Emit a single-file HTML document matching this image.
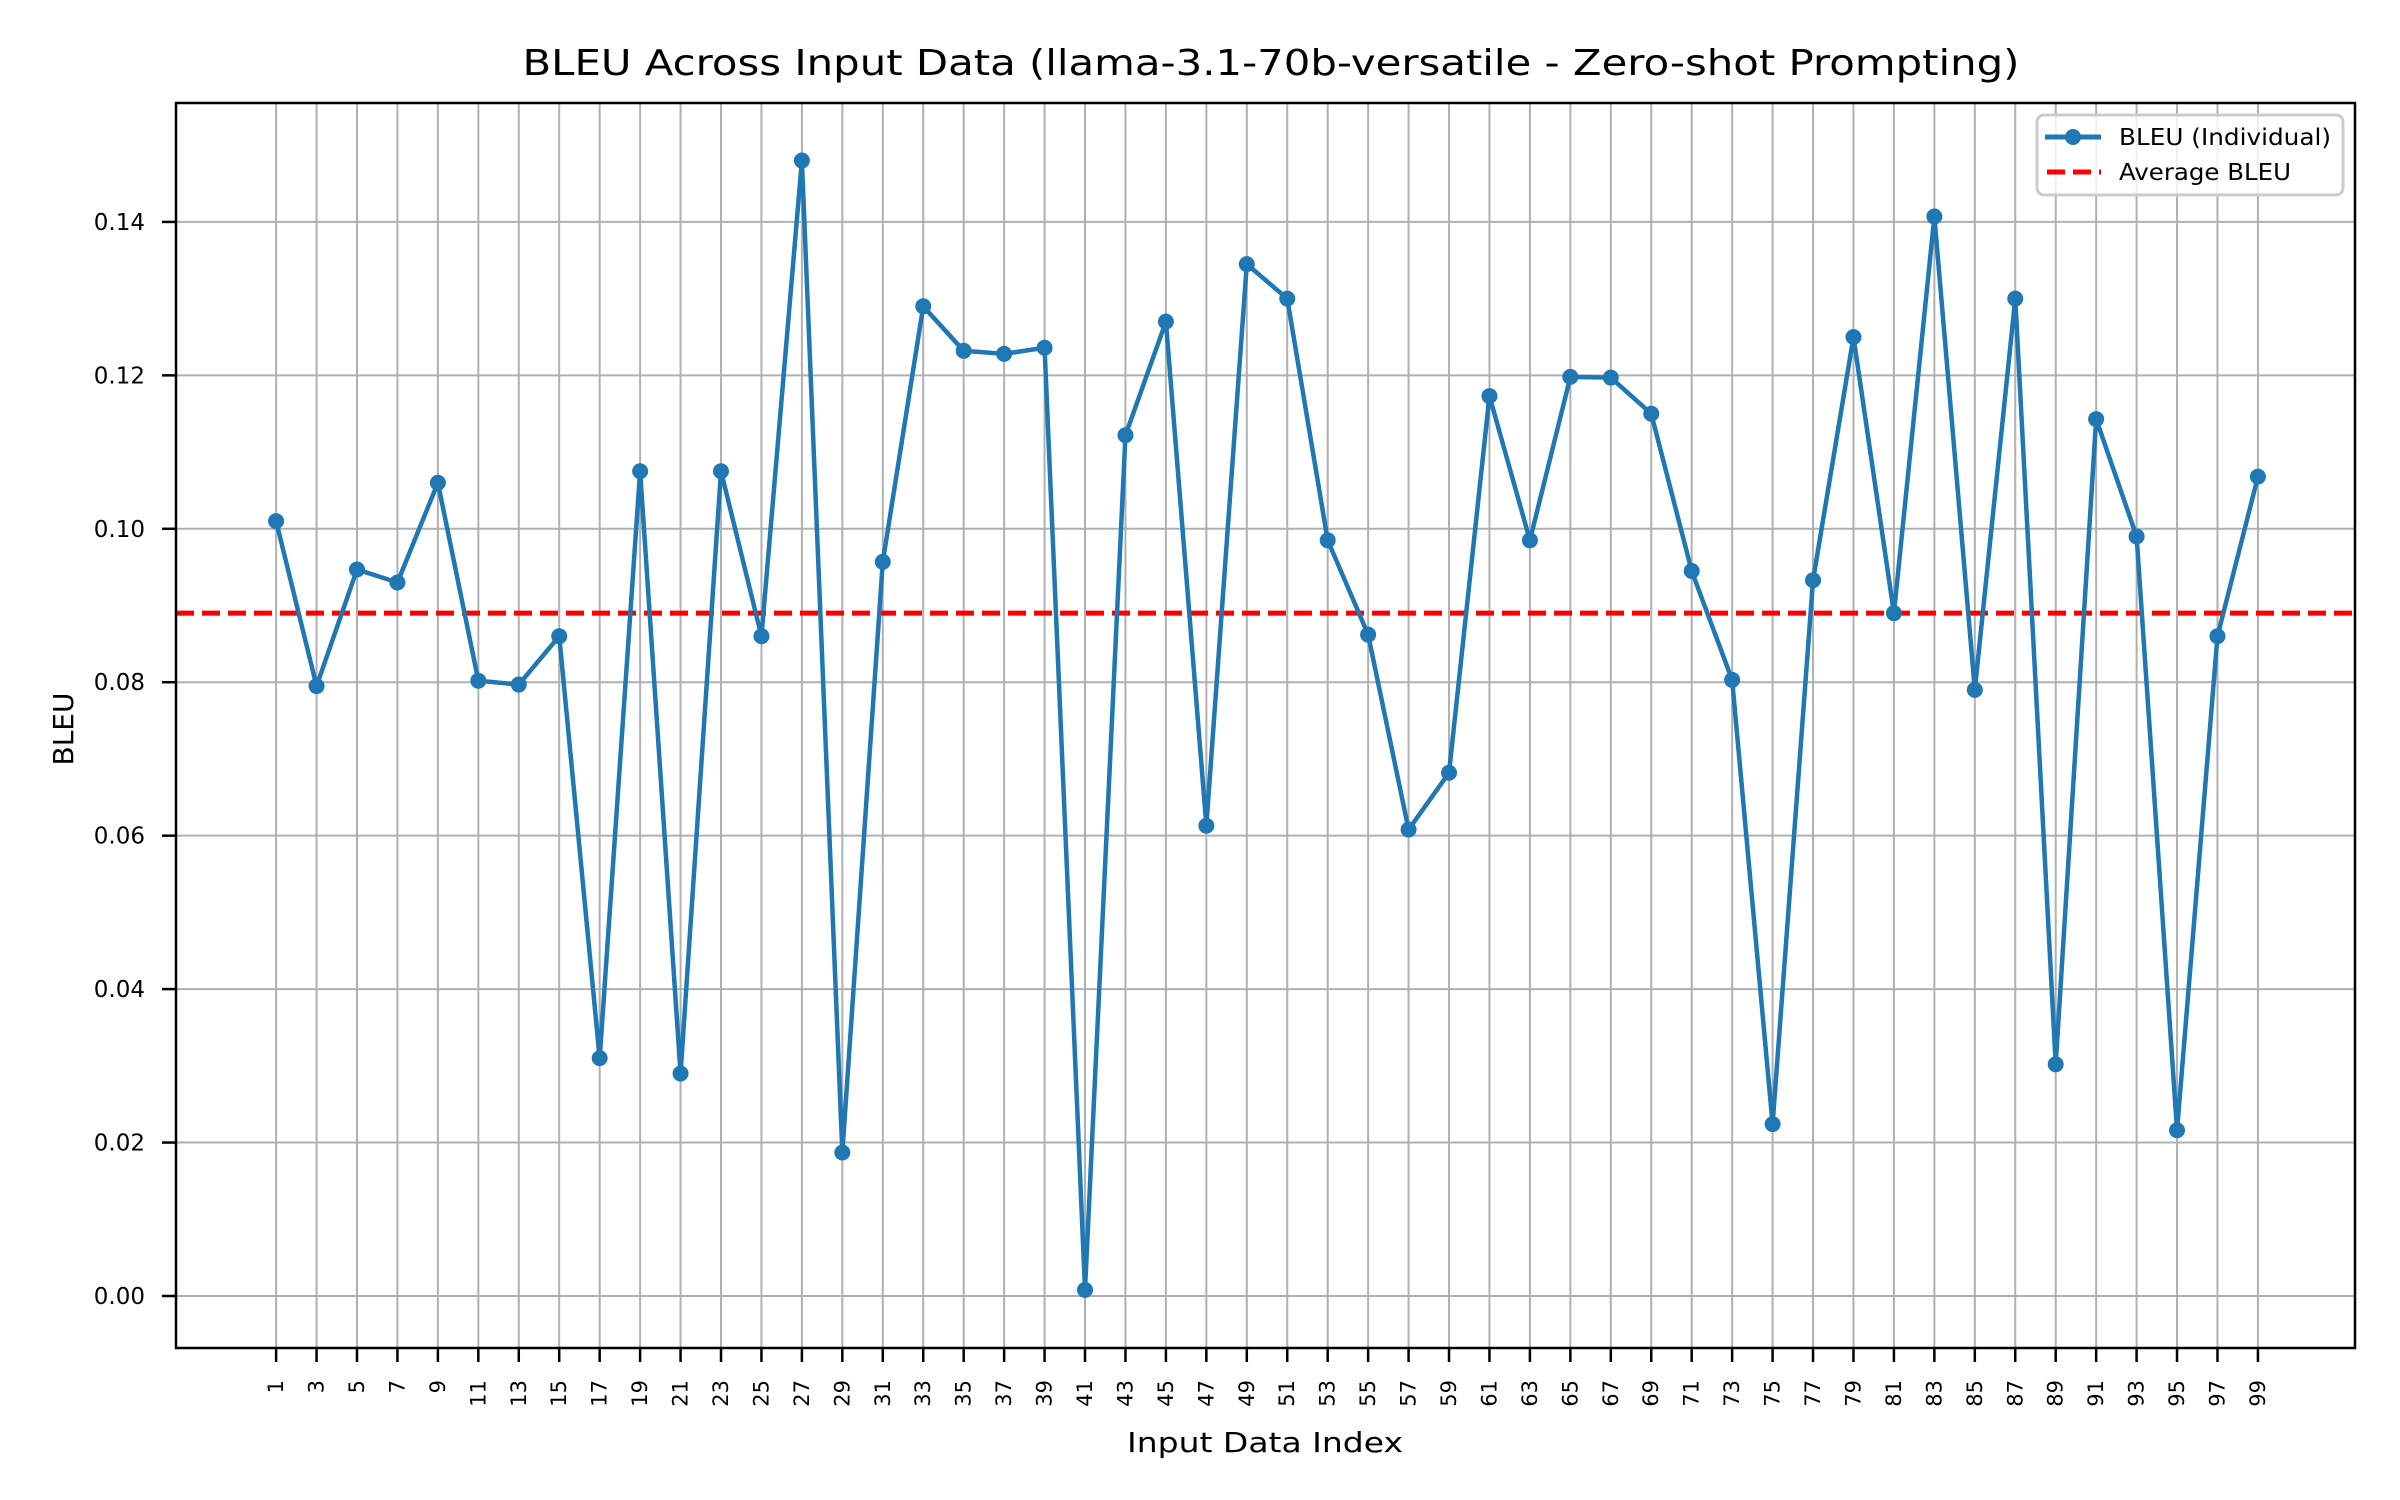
<!DOCTYPE html>
<html><head><meta charset="utf-8"><style>
html,body{margin:0;padding:0;background:#fff;}
svg{display:block;font-family:"DejaVu Sans","Liberation Sans",sans-serif;}
</style></head><body>
<svg id="chart" width="2400" height="1500" xmlns="http://www.w3.org/2000/svg">
<rect x="0" y="0" width="2400" height="1500" fill="#fff"/>
<text x="1271" y="75" font-size="36" text-anchor="middle" textLength="1497" lengthAdjust="spacingAndGlyphs" fill="#000">BLEU Across Input Data (llama-3.1-70b-versatile - Zero-shot Prompting)</text>
<text x="1265" y="1452" font-size="28" text-anchor="middle" textLength="276" lengthAdjust="spacingAndGlyphs" fill="#000">Input Data Index</text>
<text x="73" y="729" font-size="28" text-anchor="middle" fill="#000" transform="rotate(-90 73 729)">BLEU</text>
<g id="grid"></g>
<g id="marks"></g>
<rect x="176" y="103" width="2179" height="1245" fill="none" stroke="#000" stroke-width="2.5"/>
<g>
<rect x="2037" y="115" width="306" height="80" fill="#fff" fill-opacity="0.8" stroke="#cccccc" stroke-width="3" rx="7"/>
<line x1="2045" y1="137" x2="2101" y2="137" stroke="#1f77b4" stroke-width="5"/>
<circle cx="2073" cy="137" r="8" fill="#1f77b4"/>
<text x="2119" y="145" font-size="23" textLength="212" lengthAdjust="spacingAndGlyphs" fill="#000">BLEU (Individual)</text>
<line x1="2047" y1="172" x2="2101" y2="172" stroke="#ff0000" stroke-width="5" stroke-dasharray="18,8"/>
<text x="2119" y="180" font-size="23" textLength="172" lengthAdjust="spacingAndGlyphs" fill="#000">Average BLEU</text>
</g>
</svg>
<script>
const indices = [1,3,5,7,9,11,13,15,17,19,21,23,25,27,29,31,33,35,37,39,41,43,45,47,49,51,53,55,57,59,61,63,65,67,69,71,73,75,77,79,81,83,85,87,89,91,93,95,97,99];
const bleuValues = [0.101,0.0795,0.0947,0.093,0.106,0.0802,0.0797,0.086,0.031,0.1075,0.029,0.1075,0.086,0.148,0.0187,0.0957,0.129,0.1232,0.1228,0.1236,0.0008,0.1122,0.127,0.0613,0.1345,0.130,0.0985,0.0862,0.0608,0.0682,0.1173,0.0985,0.1198,0.1197,0.115,0.0945,0.0803,0.0224,0.0933,0.125,0.089,0.1407,0.079,0.130,0.0302,0.1143,0.099,0.0216,0.086,0.1068];
const averageBleu = 0.089;
const yTicks = [0,0.02,0.04,0.06,0.08,0.10,0.12,0.14];
const yTickLabels = ["0.00","0.02","0.04","0.06","0.08","0.10","0.12","0.14"];

const L=176,R=2355,T=103,B=1348;
const xMin=-3.95,xMax=103.8,yMin=-0.00678,yMax=0.1555;
const xs=v=>L+(v-xMin)/(xMax-xMin)*(R-L);
const ys=v=>B-(v-yMin)/(yMax-yMin)*(B-T);
const NS="http://www.w3.org/2000/svg";
const grid=document.getElementById('grid');
const marks=document.getElementById('marks');
function mk(tag,attrs,parent){const e=document.createElementNS(NS,tag);for(const k in attrs)e.setAttribute(k,attrs[k]);parent.appendChild(e);return e;}

indices.forEach(i=>{
  const x=xs(i);
  const g=mk('line',{x1:x,y1:T,x2:x,y2:B,stroke:'#b0b0b0','stroke-width':2},grid);
  
  
  const tk=mk('line',{x1:x,y1:B,x2:x,y2:B+14,stroke:'#000','stroke-width':2.5},grid);
  
  
  const t=mk('text',{x:x+7,y:B+32,'font-size':21,'text-anchor':'end',transform:`rotate(-90 ${x+7} ${B+32})`},grid);
  t.textContent=i;
  
  
});
yTicks.forEach((v,k)=>{
  const y=ys(v);
  const g=mk('line',{x1:L,y1:y,x2:R,y2:y,stroke:'#b0b0b0','stroke-width':2},grid);
  
  
  const tk=mk('line',{x1:L-14,y1:y,x2:L,y2:y,stroke:'#000','stroke-width':2.5},grid);
  
  
  const t=mk('text',{x:L-31,y:y+8,'font-size':23,'text-anchor':'end'},grid);
  t.textContent=yTickLabels[k];
  
  
});
const avg=mk('line',{x1:L,y1:ys(averageBleu),x2:R,y2:ys(averageBleu),stroke:'#ff0000','stroke-width':5,'stroke-dasharray':'18,8'},marks);


const pts=indices.map((i,k)=>xs(i)+','+ys(bleuValues[k])).join(' ');
const pl=mk('polyline',{points:pts,fill:'none',stroke:'#1f77b4','stroke-width':4.5,'stroke-linejoin':'round'},marks);


indices.forEach((i,k)=>{
  const c=mk('circle',{cx:xs(i),cy:ys(bleuValues[k]),r:8,fill:'#1f77b4'},marks);
  
  
});
</script>
</body></html>
